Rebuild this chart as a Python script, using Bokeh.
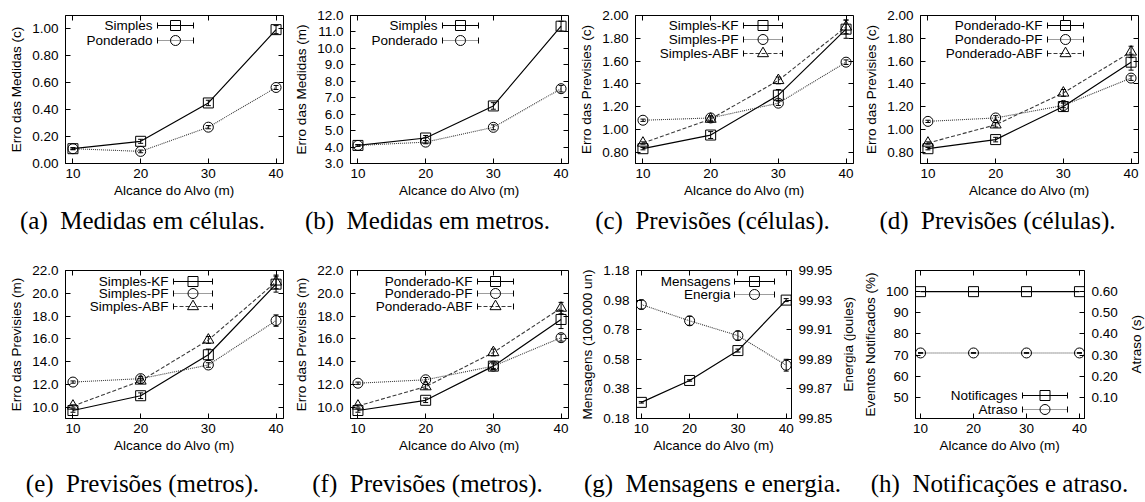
import math
from bokeh.plotting import figure
from bokeh.models import (Range1d, LinearAxis, Label, FixedTicker, PrintfTickFormatter, Div,
                          CustomJSTickFormatter, Whisker, TeeHead, ColumnDataSource)
from bokeh.layouts import row, column
from bokeh.embed import file_html
from bokeh.resources import INLINE

# ---------------- data ----------------
alcance = [10, 20, 30, 40]
x_ticks = [10, 20, 30, 40]

a_simples = [0.11, 0.165, 0.45, 0.995]
a_simples_err = [0.008, 0.015, 0.02, 0.03]
a_ponderado = [0.11, 0.09, 0.27, 0.565]
a_ponderado_err = [0.005, 0.01, 0.012, 0.015]
a_yticks = [0.0, 0.2, 0.4, 0.6, 0.8, 1.0]

b_simples = [4.1, 4.55, 6.5, 11.35]
b_simples_err = [0.05, 0.15, 0.2, 0.3]
b_ponderado = [4.1, 4.3, 5.2, 7.55]
b_ponderado_err = [0.05, 0.1, 0.15, 0.2]
b_yticks = [3, 4, 5, 6, 7, 8, 9, 10, 11, 12]

c_kf = [0.83, 0.95, 1.30, 1.88]
c_kf_err = [0.01, 0.03, 0.05, 0.08]
c_pf = [1.08, 1.10, 1.23, 1.59]
c_pf_err = [0.01, 0.02, 0.02, 0.02]
c_abf = [0.88, 1.09, 1.43, 1.90]
c_abf_err = [0.01, 0.02, 0.03, 0.06]
cd_yticks = [0.8, 1.0, 1.2, 1.4, 1.6, 1.8, 2.0]

d_kf = [0.83, 0.91, 1.20, 1.59]
d_kf_err = [0.01, 0.02, 0.04, 0.07]
d_pf = [1.07, 1.10, 1.21, 1.45]
d_pf_err = [0.01, 0.02, 0.02, 0.02]
d_abf = [0.88, 1.04, 1.32, 1.68]
d_abf_err = [0.01, 0.02, 0.03, 0.05]

e_kf = [9.7, 11.0, 14.6, 20.8]
e_kf_err = [0.15, 0.25, 0.5, 0.7]
e_pf = [12.2, 12.5, 13.7, 17.6]
e_pf_err = [0.1, 0.2, 0.2, 0.5]
e_abf = [10.1, 12.3, 15.9, 21.0]
e_abf_err = [0.1, 0.2, 0.3, 0.6]
ef_yticks = [10, 12, 14, 16, 18, 20, 22]

f_kf = [9.7, 10.6, 13.6, 17.7]
f_kf_err = [0.15, 0.2, 0.3, 0.8]
f_pf = [12.1, 12.4, 13.6, 16.1]
f_pf_err = [0.1, 0.2, 0.2, 0.3]
f_abf = [10.1, 11.8, 14.8, 18.7]
f_abf_err = [0.1, 0.2, 0.3, 0.5]

g_mensagens = [0.289, 0.437, 0.639, 0.98]
g_mensagens_err = [0.005, 0.005, 0.01, 0.01]
g_energia = [99.927, 99.916, 99.906, 99.886]
g_energia_err = [0.003, 0.003, 0.003, 0.004]
g_yticks = [0.18, 0.38, 0.58, 0.78, 0.98, 1.18]
g_y2ticks = [99.85, 99.87, 99.89, 99.91, 99.93, 99.95]

h_notificacoes = [100, 100, 100, 100]
h_notificacoes_err = [0, 0, 0, 0]
h_atraso = [0.31, 0.31, 0.31, 0.31]
h_atraso_err = [0.002, 0.002, 0.002, 0.002]
h_yticks = [50, 60, 70, 80, 90, 100]
h_y2ticks = [0.1, 0.2, 0.3, 0.4, 0.5, 0.6]

captions = ["(a)\u2002Medidas em células.", "(b)\u2002Medidas em metros.",
            "(c)\u2002Previsões (células).", "(d)\u2002Previsões (células).",
            "(e)\u2002Previsões (metros).", "(f)\u2002Previsões (metros).",
            "(g)\u2002Mensagens e energia.", "(h)\u2002Notificações e atraso."]

# ---------------- styles ----------------
SANS = "Liberation Sans"
SERIF = "Liberation Serif"
FS = "13.5px"
STY = {
    "solid": dict(line_dash="solid", line_color="black", line_width=1.2, marker="square", size=10),
    "dot": dict(line_dash="1 1", line_color="#3a3a3a", line_width=1.1, marker="circle", size=10),
    "dash": dict(line_dash="4 2", line_color="#3a3a3a", line_width=1.1, marker="triangle", size=11),
}
EMPTY = CustomJSTickFormatter(code="return ''")


def style_axis(ax):
    ax.major_tick_in = 5
    ax.major_tick_out = 0
    ax.minor_tick_line_color = None
    ax.major_tick_line_color = "black"
    ax.axis_line_color = "black"
    ax.major_label_text_font = SANS
    ax.major_label_text_font_size = FS
    ax.major_label_text_color = "black"
    ax.axis_label_text_font = SANS
    ax.axis_label_text_font_size = FS
    ax.axis_label_text_font_style = "normal"
    ax.axis_label_text_color = "black"


def panel(pw, ph, bl, bt, fw, fh, xr, yr, yticks, yfmt, ylabel, series, leg, y2=None):
    p = figure(width=pw, height=ph, x_range=Range1d(*xr), y_range=Range1d(*yr),
               output_backend="svg", toolbar_location=None, title=None,
               min_border_left=bl, min_border_top=bt,
               min_border_right=pw - bl - fw, min_border_bottom=ph - bt - fh)
    p.grid.visible = False
    p.outline_line_color = "black"
    p.outline_line_width = 1
    p.outline_line_alpha = 1
    p.background_fill_color = "white"
    p.border_fill_color = "white"

    xa = p.xaxis[0]
    ya = p.yaxis[0]
    style_axis(xa)
    style_axis(ya)
    xa.ticker = FixedTicker(ticks=x_ticks)
    xa.axis_label = "Alcance do Alvo (m)"
    xa.major_label_standoff = 5
    xa.axis_label_standoff = 2
    ya.ticker = FixedTicker(ticks=yticks)
    ya.formatter = PrintfTickFormatter(format=yfmt)
    ya.axis_label = ylabel
    ya.major_label_standoff = 7
    ya.axis_label_standoff = 5

    top = LinearAxis(fixed_location=yr[1], ticker=FixedTicker(ticks=x_ticks), formatter=EMPTY)
    style_axis(top)
    top.axis_line_color = None
    p.add_layout(top, "above")

    if y2 is not None:
        p.extra_y_ranges = {"r": Range1d(*y2["range"])}
        ra = LinearAxis(y_range_name="r", ticker=FixedTicker(ticks=y2["ticks"]),
                        formatter=PrintfTickFormatter(format=y2["fmt"]))
        style_axis(ra)
        ra.major_label_standoff = 7
        p.add_layout(ra, "right")
    else:
        ra = LinearAxis(fixed_location=xr[1], ticker=FixedTicker(ticks=yticks), formatter=EMPTY)
        style_axis(ra)
        ra.axis_line_color = None
        p.add_layout(ra, "right")

    x0, x1 = xr
    y0, y1 = yr

    def dx(px):
        return x0 + px / fw * (x1 - x0)

    def dy(pt):
        return y1 - pt / fh * (y1 - y0)

    for i, (name, ys, errs, sty, rname) in enumerate(series):
        st = STY[sty]
        kw = {} if rname is None else {"y_range_name": rname}
        src = ColumnDataSource(dict(x=alcance, y=ys,
                                    lo=[v - e for v, e in zip(ys, errs)],
                                    up=[v + e for v, e in zip(ys, errs)]))
        p.line("x", "y", source=src, line_color=st["line_color"], line_dash=st["line_dash"],
               line_width=st["line_width"], **kw)
        if max(errs) > 0:
            w = Whisker(source=src, base="x", lower="lo", upper="up", line_color="black", line_width=1,
                        upper_head=TeeHead(size=5, line_color="black", line_width=1),
                        lower_head=TeeHead(size=5, line_color="black", line_width=1), **kw)
            p.add_layout(w)
        p.scatter("x", "y", source=src, marker=st["marker"], size=st["size"], fill_color=None,
                  line_color="black", line_width=1, **kw)

        # gnuplot-style legend entry
        tp = leg["rows"][i]
        p.add_layout(Label(x=leg["tx"], y=fh - tp, x_units="screen", y_units="screen", text=name,
                           text_align="right", text_baseline="middle", text_font=SANS,
                           text_font_size=FS, text_color="black"))
        yy = dy(tp)
        s0, s1 = leg["s0"], leg["s1"]
        p.line([dx(s0), dx(s1)], [yy, yy], line_color=st["line_color"], line_dash=st["line_dash"],
               line_width=st["line_width"])
        p.segment(x0=[dx(s0), dx(s1)], y0=[dy(tp - 3), dy(tp - 3)], x1=[dx(s0), dx(s1)],
                  y1=[dy(tp + 3), dy(tp + 3)], line_color="black", line_width=1)
        p.scatter([dx((s0 + s1) / 2)], [yy], marker=st["marker"], size=st["size"], fill_color=None,
                  line_color="black", line_width=1)
    return p


def caption_div(text, w, h, center):
    html = ('<div style="width: %dpx; font-family: \'Liberation Serif\', serif; font-size: 25px; '
            'line-height: %dpx; text-align: center; white-space: nowrap; color: black; '
            'margin: 0; padding: 0;">%s</div>' % (w, 2 * center, text))
    return Div(text=html, width=w, height=h, margin=0)


def vlabel_div(text, w, h, top, fh):
    html = ('<div style="width: %dpx; height: %dpx; margin-top: %dpx; display: flex; '
            'align-items: center; justify-content: center;">'
            '<span style="writing-mode: vertical-rl; transform: rotate(180deg); '
            'font-family: \'Liberation Sans\', sans-serif; font-size: 13.5px; white-space: nowrap; '
            'color: black;">%s</span></div>' % (w, fh, top, text))
    return Div(text=html, width=w, height=h, margin=0)


PW = 285
H1, BT1, FH = 207, 15, 148
H2, BT2 = 222, 30
XR = (8.9, 41.1)

pa = panel(PW, H1, 65, BT1, 218, FH, XR, (0.0, 1.1), a_yticks, "%.2f", "Erro das Medidas (c)",
           [("Simples", a_simples, a_simples_err, "solid", None),
            ("Ponderado", a_ponderado, a_ponderado_err, "dot", None)],
           dict(tx=87, s0=92, s1=128, rows=[10, 25]))

pb = panel(PW, H1, 65, BT1, 218, FH, XR, (3.0, 12.0), b_yticks, "%.1f", "Erro das Medidas (m)",
           [("Simples", b_simples, b_simples_err, "solid", None),
            ("Ponderado", b_ponderado, b_ponderado_err, "dot", None)],
           dict(tx=87, s0=92, s1=128, rows=[10, 25]))

pc = panel(PW, H1, 65, BT1, 218, FH, XR, (0.7, 2.0), cd_yticks, "%.2f", "Erro das Previsies (c)",
           [("Simples-KF", c_kf, c_kf_err, "solid", None),
            ("Simples-PF", c_pf, c_pf_err, "dot", None),
            ("Simples-ABF", c_abf, c_abf_err, "dash", None)],
           dict(tx=103, s0=108, s1=147, rows=[10, 24, 38]))

pd_ = panel(PW, H1, 65, BT1, 218, FH, XR, (0.7, 2.0), cd_yticks, "%.2f", "Erro das Previsies (c)",
            [("Ponderado-KF", d_kf, d_kf_err, "solid", None),
             ("Ponderado-PF", d_pf, d_pf_err, "dot", None),
             ("Ponderado-ABF", d_abf, d_abf_err, "dash", None)],
            dict(tx=122, s0=127, s1=163, rows=[10, 24, 38]))

pe = panel(PW, H2, 65, BT2, 218, FH, XR, (9.0, 22.0), ef_yticks, "%.1f", "Erro das Previsies (m)",
           [("Simples-KF", e_kf, e_kf_err, "solid", None),
            ("Simples-PF", e_pf, e_pf_err, "dot", None),
            ("Simples-ABF", e_abf, e_abf_err, "dash", None)],
           dict(tx=103, s0=108, s1=147, rows=[11, 23, 36]))

pf = panel(PW, H2, 65, BT2, 218, FH, XR, (9.0, 22.0), ef_yticks, "%.1f", "Erro das Previsies (m)",
           [("Ponderado-KF", f_kf, f_kf_err, "solid", None),
            ("Ponderado-PF", f_pf, f_pf_err, "dot", None),
            ("Ponderado-ABF", f_abf, f_abf_err, "dash", None)],
           dict(tx=122, s0=127, s1=163, rows=[11, 23, 36]))

GW, GLW = 272, 13
pg = panel(GW, H2, 66, BT2, 155, FH, (9.0, 41.1), (0.18, 1.18), g_yticks, "%.2f",
           "Mensagens (100.000 un)",
           [("Mensagens", g_mensagens, g_mensagens_err, "solid", None),
            ("Energia", g_energia, g_energia_err, "dot", "r")],
           dict(tx=94, s0=98, s1=138, rows=[11, 24]),
           y2=dict(range=(99.85, 99.95), ticks=g_y2ticks, fmt="%.2f"))
g_lab = vlabel_div("Energia (joules)", GLW, H2, BT2, FH)

HW, HLW = 275, 14
ph_ = panel(HW, H2, 60, BT2, 169, FH, (9.05, 40.95), (40, 110), h_yticks, "%d",
            "Eventos Notificados (%)",
            [("Notificages", h_notificacoes, h_notificacoes_err, "solid", None),
             ("Atraso", h_atraso, h_atraso_err, "dot", "r")],
            dict(tx=102, s0=107, s1=152, rows=[125, 139]),
            y2=dict(range=(0.0, 0.7), ticks=h_y2ticks, fmt="%.2f"))
h_lab = vlabel_div("Atraso (s)", HLW, H2, BT2, FH)

caps1 = row(*[caption_div(t, PW, 33, 14) for t in captions[:4]])
caps2 = row(*[caption_div(t, w, 38, 22) for t, w in zip(captions[4:], [PW, PW, PW, HW + HLW])])

layout = column(row(pa, pb, pc, pd_), caps1, row(pe, pf, pg, g_lab, ph_, h_lab), caps2)
open("out.html", "w").write(file_html(layout, INLINE))
